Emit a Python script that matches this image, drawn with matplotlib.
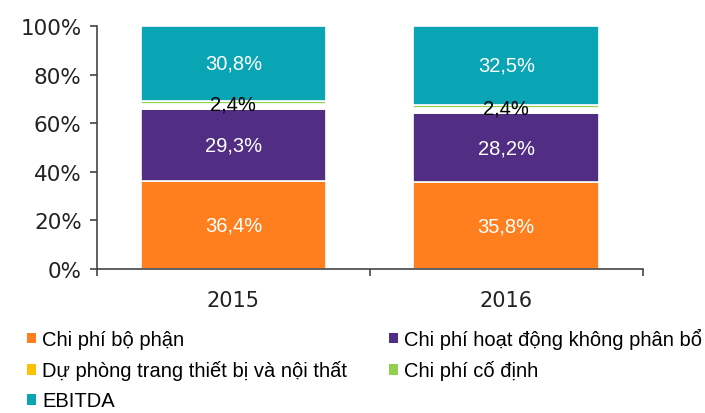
import numpy as np
import matplotlib.pyplot as plt
from matplotlib.patches import Patch

years = ['2015', '2016']
series = ['Chi phí bộ phận', 'Chi phí hoạt động không phân bổ',
          'Dự phòng trang thiết bị và nội thất', 'Chi phí cố định', 'EBITDA']
bo_phan = [36.4, 35.8]
hoat_dong = [29.3, 28.2]
du_phong = [2.4, 2.4]
co_dinh = [1.1, 1.1]
ebitda = [30.8, 32.5]

colors = ['#FF7F1E', '#512E83', '#FFC000', '#92D050', '#0AA5B5']
# the provision segment shows up white in the original picture
fill = ['#FF7F1E', '#512E83', 'white', '#92D050', '#0AA5B5']
label_color = ['white', 'white', 'black', None, 'white']

arial = ['Liberation Sans', 'DejaVu Sans']

fig = plt.figure(figsize=(7.05, 4.14), dpi=100)
ax = fig.add_axes([0.1376, 0.3478, 0.774, 0.5870])

x = np.arange(len(years))
bottom = np.zeros(len(years))
for i, vals in enumerate([bo_phan, hoat_dong, du_phong, co_dinh, ebitda]):
    vals = np.array(vals)
    ax.bar(x, vals, 0.68, bottom=bottom, color=fill[i], edgecolor='white', linewidth=1.2)
    if label_color[i] is not None:
        for xi, v, b in zip(x, vals, bottom):
            txt = f'{v:.1f}%'.replace('.', ',')
            ax.text(xi, b + v / 2 + (1.2 if i == 2 else 0), txt, ha='center', va='center',
                    color=label_color[i], fontsize=14.5, family=arial)
    bottom += vals

ax.set_xlim(-0.5, 1.5)
ax.set_ylim(0, 100)
ax.set_yticks(np.arange(0, 101, 20))
ax.set_yticklabels([f'{v}%' for v in range(0, 101, 20)], fontsize=15.5, color='#222222')
ax.set_xticks(x)
ax.set_xticklabels(years, fontsize=15, color='#222222')
ax.set_xticks([-0.5, 0.5, 1.5], minor=True)
ax.tick_params(axis='x', which='major', length=0, pad=15)
ax.tick_params(axis='x', which='minor', length=5, width=1.2, color='#444444', direction='out')
ax.tick_params(axis='y', length=5, width=1.2, color='#444444', direction='out', pad=6)
for s in ['top', 'right']:
    ax.spines[s].set_visible(False)
for s in ['left', 'bottom']:
    ax.spines[s].set_color('#444444')
    ax.spines[s].set_linewidth(1.2)

order = [0, 2, 4, 1, 3]
handles = [Patch(facecolor=colors[k], edgecolor='none') for k in order]
labels = [series[k] for k in order]
fig.legend(handles, labels, loc='upper left', bbox_to_anchor=(0.038, 0.205), ncol=2,
           frameon=False, prop={'family': arial, 'size': 14.5},
           handlelength=0.45, handleheight=0.45, handletextpad=0.3,
           labelspacing=0.55, columnspacing=2.1, borderaxespad=0, borderpad=0)

fig.savefig('out.png', dpi=100)
